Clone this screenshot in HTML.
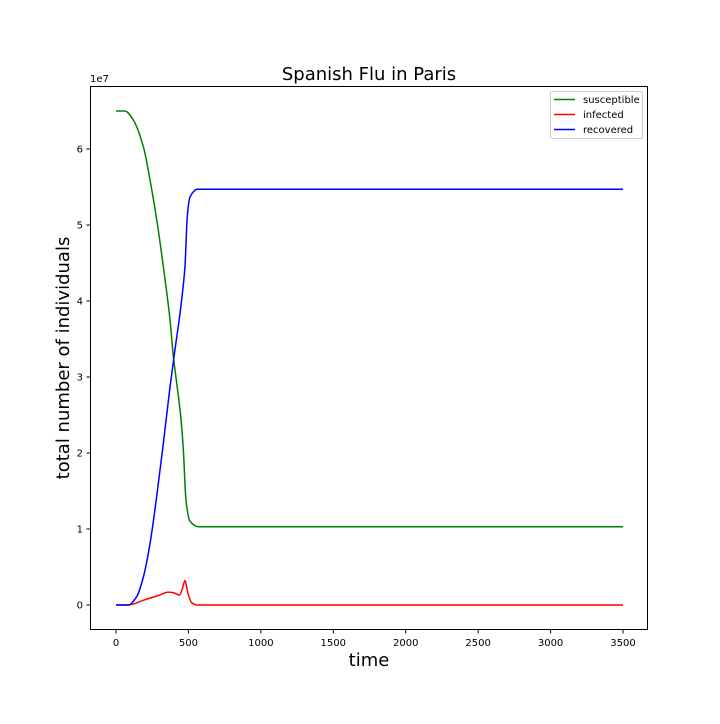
<!DOCTYPE html>
<html><head><meta charset="utf-8"><style>
body{margin:0;background:#fff;font-family:"DejaVu Sans","Liberation Sans",sans-serif}
</style></head><body>
<svg id="chart" width="720" height="720" xmlns="http://www.w3.org/2000/svg" font-family="DejaVu Sans, Liberation Sans, sans-serif">
<rect width="720" height="720" fill="#fff"/>
<text x="369" y="80" font-size="18" text-anchor="middle">Spanish Flu in Paris</text>
<text x="369" y="666" font-size="18" text-anchor="middle">time</text>
<text transform="translate(69,358) rotate(-90)" font-size="18" text-anchor="middle">total number of individuals</text>
<text x="90" y="82" font-size="10">1e7</text>
<g id="ticks"></g>
<g id="series"></g>
<rect x="90.5" y="86.5" width="557" height="543" fill="none" stroke="#000" stroke-width="1"/>
<g>
<rect x="550.5" y="91.5" width="92" height="47" rx="2" fill="#fff" stroke="#ccc"/>
<line x1="554" y1="99.5" x2="575" y2="99.5" stroke="#008000" stroke-width="1.5"/>
<text x="583" y="103" font-size="10">susceptible</text>
<line x1="554" y1="114.5" x2="575" y2="114.5" stroke="#ff0000" stroke-width="1.5"/>
<text x="583" y="118" font-size="10">infected</text>
<line x1="554" y1="129.5" x2="575" y2="129.5" stroke="#0000ff" stroke-width="1.5"/>
<text x="583" y="133" font-size="10">recovered</text>
</g>
</svg>
<script>
const xTicks=[0,500,1000,1500,2000,2500,3000,3500];
const yTicks=[0,1,2,3,4,5,6];
const sT=[0,62,120,189,235,281,327,373,396,419,447,465,483,511,568,650,3500];
const sV=[6.5,6.5,6.38,6.03,5.59,5.07,4.45,3.75,3.27,2.92,2.48,2.04,1.38,1.10,1.03,1.03,1.03];
const iT=[0,85,200,300,361,400,437,456,476,496,522,560,3500];
const iV=[0,0,0.07,0.13,0.17,0.16,0.13,0.2,0.32,0.16,0.03,0,0];
const rT=[0,85,143,189,235,281,327,373,407,442,476,492,511,561,650,3500];
const rV=[0,0,0.11,0.37,0.81,1.43,2.13,2.87,3.36,3.84,4.45,5.11,5.37,5.47,5.47,5.47];
const X=t=>116+t*(507/3500);
const Y=v=>605-v*76;
const NS="http://www.w3.org/2000/svg";
const tg=document.getElementById('ticks');
function mk(tag,attrs,parent){const e=document.createElementNS(NS,tag);for(const k in attrs)e.setAttribute(k,attrs[k]);parent.appendChild(e);return e;}
xTicks.forEach(t=>{
  const l=mk('line',{x1:X(t),x2:X(t),y1:630,y2:633.5,stroke:'#000'},tg);
  
  
  const tx=mk('text',{x:X(t),y:646,'font-size':10,'text-anchor':'middle'},tg);
  tx.textContent=t;
  
  
});
yTicks.forEach(v=>{
  const l=mk('line',{x1:86.5,x2:90,y1:Y(v),y2:Y(v),stroke:'#000'},tg);
  
  
  const tx=mk('text',{x:83,y:Y(v)+3.5,'font-size':10,'text-anchor':'end'},tg);
  tx.textContent=v;
  
  
});
const sg=document.getElementById('series');
function monotonePath(xs,ys){
  const n=xs.length,d=[],m=new Array(n);
  for(let i=0;i<n-1;i++)d.push((ys[i+1]-ys[i])/(xs[i+1]-xs[i]));
  m[0]=d[0];m[n-1]=d[n-2];
  for(let i=1;i<n-1;i++){m[i]=(d[i-1]*d[i]<=0)?0:(2*d[i-1]*d[i])/(d[i-1]+d[i]);}
  let p='M'+xs[0].toFixed(2)+','+ys[0].toFixed(2);
  for(let i=0;i<n-1;i++){
    const h=(xs[i+1]-xs[i])/3;
    p+=' C'+(xs[i]+h).toFixed(2)+','+(ys[i]+m[i]*h).toFixed(2)+' '+(xs[i+1]-h).toFixed(2)+','+(ys[i+1]-m[i+1]*h).toFixed(2)+' '+xs[i+1].toFixed(2)+','+ys[i+1].toFixed(2);
  }
  return p;
}
function line(T,V,color,name){
  const p=mk('path',{d:monotonePath(T.map(X),V.map(Y)),fill:'none',stroke:color,'stroke-width':1.5,'stroke-linejoin':'round'},sg);
  
  
}
line(sT,sV,'#008000','susceptible-line');
line(iT,iV,'#ff0000','infected-line');
line(rT,rV,'#0000ff','recovered-line');
</script>
</body></html>
